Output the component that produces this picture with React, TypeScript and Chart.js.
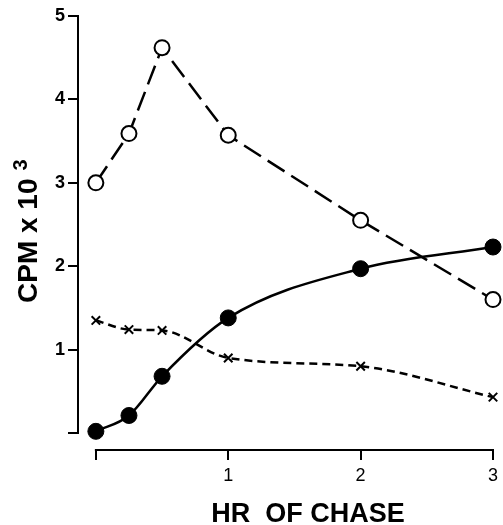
import React, { useEffect, useRef } from "react";
import { Chart, registerables } from "chart.js";

Chart.register(...registerables);

const HOURS = [0, 0.25, 0.5, 1, 2, 3];
const OPEN_CIRCLES = [3.0, 3.59, 4.62, 3.57, 2.55, 1.6];
const FILLED_CIRCLES = [0.02, 0.21, 0.68, 1.38, 1.97, 2.23];
const CROSSES = [1.35, 1.24, 1.23, 0.9, 0.8, 0.43];
const X_TICKS = [0, 1, 2, 3];
const Y_TICKS = [0, 1, 2, 3, 4, 5];
const X_TITLE = "HR  OF CHASE";
const Y_TITLE = "CPM x 10";
const Y_TITLE_EXP = "3";

const FONT = "Liberation Sans";

const pts = (ys: number[]) => HOURS.map((h, i) => ({ x: h, y: ys[i] }));

const offsetAxes = {
  id: "offsetAxes",
  afterDraw(chart: any) {
    const { ctx, chartArea } = chart;
    const x = chart.scales.x;
    const y = chart.scales.y;
    ctx.save();
    ctx.strokeStyle = "#000";
    ctx.lineWidth = 2;
    ctx.lineCap = "square";
    ctx.beginPath();
    const ax = chartArea.left;
    ctx.moveTo(ax, y.getPixelForValue(Y_TICKS[0]));
    ctx.lineTo(ax, y.getPixelForValue(Y_TICKS[Y_TICKS.length - 1]));
    const ay = chartArea.bottom;
    ctx.moveTo(x.getPixelForValue(X_TICKS[0]), ay);
    ctx.lineTo(x.getPixelForValue(X_TICKS[X_TICKS.length - 1]), ay);
    ctx.stroke();

    ctx.fillStyle = "#000";
    ctx.font = `bold 27px ${FONT}`;
    ctx.textAlign = "center";
    ctx.textBaseline = "alphabetic";
    ctx.fillText(X_TITLE, 308, 522);

    ctx.translate(37, 303);
    ctx.rotate(-Math.PI / 2);
    ctx.textAlign = "left";
    ctx.font = `bold 28px ${FONT}`;
    ctx.fillText(Y_TITLE, 0, 0);
    const w = ctx.measureText(Y_TITLE).width;
    ctx.font = `bold 20px ${FONT}`;
    ctx.fillText(Y_TITLE_EXP, w + 8, -10);
    ctx.restore();
  },
};

export default function App() {
  const ref = useRef<HTMLCanvasElement | null>(null);
  useEffect(() => {
    if (!ref.current) return;
    const chart = new Chart(ref.current, {
      type: "line",
      data: {
        datasets: [
          {
            label: "open",
            data: pts(OPEN_CIRCLES),
            borderColor: "#000",
            backgroundColor: "#fff",
            borderWidth: 2.5,
            borderDash: [20, 8],
            tension: 0,
            pointRadius: 7.5,
            pointBorderWidth: 2,
            pointBackgroundColor: "#fff",
            pointBorderColor: "#000",
            clip: false,
          },
          {
            label: "filled",
            data: pts(FILLED_CIRCLES),
            borderColor: "#000",
            backgroundColor: "#000",
            borderWidth: 2.5,
            cubicInterpolationMode: "monotone",
            pointRadius: 8,
            pointBorderWidth: 1,
            pointBackgroundColor: "#000",
            pointBorderColor: "#000",
            clip: false,
          },
          {
            label: "x",
            data: pts(CROSSES),
            borderColor: "#000",
            borderWidth: 2.5,
            borderDash: [8, 5],
            cubicInterpolationMode: "monotone",
            pointStyle: "crossRot",
            pointRadius: 6,
            pointBorderWidth: 2,
            pointBorderColor: "#000",
            clip: false,
          },
        ],
      } as any,
      options: {
        animation: false,
        responsive: false,
        events: [],
        font: { family: FONT, size: 18 },
        layout: { padding: { top: 16, right: 7, left: 0, bottom: 0 } },
        plugins: {
          legend: { display: false },
          tooltip: { enabled: false },
          title: { display: false },
        },
        scales: {
          x: {
            type: "linear",
            min: -0.135,
            max: 3,
            border: { display: false },
            grid: {
              display: true,
              drawOnChartArea: false,
              drawTicks: true,
              tickLength: 10,
              color: "#000",
              lineWidth: 2,
            },
            ticks: {
              color: "#000",
              font: { family: FONT, size: 18, weight: "normal" },
              padding: 5,
              maxRotation: 0,
              autoSkip: false,
              callback: (v: any) => (v === 0 ? "" : String(v)),
            },
            afterBuildTicks: (s: any) => {
              s.ticks = X_TICKS.map((v) => ({ value: v }));
            },
            afterFit: (s: any) => {
              s.height = 75;
            },
          },
          y: {
            type: "linear",
            min: -0.2038,
            max: 5,
            border: { display: false },
            grid: {
              display: true,
              drawOnChartArea: false,
              drawTicks: true,
              tickLength: 10,
              color: "#000",
              lineWidth: 2,
            },
            ticks: {
              color: "#000",
              font: { family: FONT, size: 18, weight: "bold" },
              padding: 3,
              autoSkip: false,
              callback: (v: any) => (v === 0 ? "" : String(v)),
            },
            afterBuildTicks: (s: any) => {
              s.ticks = Y_TICKS.map((v) => ({ value: v }));
            },
            afterFit: (s: any) => {
              s.width = 78;
            },
          },
        },
      } as any,
      plugins: [offsetAxes],
    });
    return () => chart.destroy();
  }, []);
  return (
    <div style={{ position: "absolute", left: 0, top: 0, width: 503, height: 525, background: "#fff" }}>
      <canvas ref={ref} width={503} height={525} style={{ display: "block" }} />
    </div>
  );
}
